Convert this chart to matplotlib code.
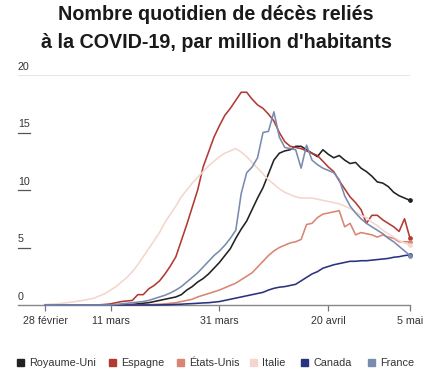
import matplotlib
matplotlib.use("Agg")
import matplotlib.pyplot as plt
import pandas as pd

dates = pd.date_range("2020-02-28", "2020-05-05", freq="D")

royaume_uni = [0] * 15 + [
    0.02, 0.05, 0.1, 0.15, 0.2, 0.3, 0.4, 0.5, 0.6, 0.7,
    0.9, 1.3, 1.6, 2.0, 2.3, 2.7, 3.2, 3.7, 4.3, 4.9,
    5.8, 6.6, 7.3, 8.3, 9.3, 10.2, 11.4, 12.6, 13.2, 13.4,
    13.5, 13.8, 13.8, 13.5, 13.2, 12.9, 13.5, 13.1, 12.8, 13.0,
    12.6, 12.3, 12.4, 11.9, 11.6, 11.2, 10.7, 10.6, 10.3, 9.8,
    9.5, 9.3, 9.1]
espagne = [0] * 10 + [
    0.02, 0.05, 0.1, 0.2, 0.3, 0.35, 0.4, 0.9, 0.9, 1.4,
    1.7, 2.1, 2.7, 3.4, 4.2, 5.6, 7.0, 8.5, 10.0, 12.0,
    13.3, 14.6, 15.6, 16.5, 17.1, 17.8, 18.5, 18.5, 17.9, 17.4,
    17.1, 16.6, 16.0, 15.0, 14.2, 13.8, 13.7, 13.6, 13.4, 13.2,
    13.0, 12.5, 12.0, 11.6, 10.8, 10.1, 9.4, 8.9, 8.3, 7.1,
    7.8, 7.8, 7.4, 7.1, 6.8, 6.4, 7.5, 5.8]
etats_unis = [0] * 18 + [
    0.02, 0.03, 0.05, 0.07, 0.1, 0.15, 0.2, 0.3, 0.4, 0.5,
    0.7, 0.85, 1.0, 1.15, 1.3, 1.5, 1.7, 1.9, 2.2, 2.5,
    2.8, 3.3, 3.8, 4.3, 4.7, 5.0, 5.2, 5.4, 5.5, 5.7,
    7.0, 7.1, 7.6, 7.9, 8.0, 8.1, 8.2, 6.8, 7.1, 6.1,
    6.3, 6.2, 6.1, 5.9, 6.1, 5.9, 5.8, 5.5, 5.5, 5.5]
italie = [
    0.05, 0.07, 0.1, 0.15, 0.2, 0.25, 0.35, 0.4, 0.5, 0.6,
    0.8, 1.0, 1.3, 1.6, 2.0, 2.4, 2.9, 3.5, 4.2, 4.9,
    5.6, 6.3, 7.2, 7.9, 8.6, 9.4, 10.0, 10.6, 11.1, 11.6,
    12.1, 12.5, 12.9, 13.2, 13.4, 13.6, 13.3, 12.9, 12.4, 11.9,
    11.4, 10.9, 10.5, 10.1, 9.8, 9.6, 9.4, 9.3, 9.3, 9.3,
    9.2, 9.1, 9.0, 8.9, 8.8, 8.6, 8.4, 8.1, 7.8, 7.6,
    7.2, 6.9, 6.5, 6.2, 5.9, 5.6, 5.4, 5.2]
canada = [0] * 21 + [
    0.01, 0.02, 0.03, 0.05, 0.07, 0.1, 0.12, 0.15, 0.18, 0.2,
    0.25, 0.3, 0.4, 0.5, 0.6, 0.7, 0.8, 0.9, 1.0, 1.1,
    1.3, 1.45, 1.55, 1.6, 1.7, 1.8, 2.1, 2.4, 2.7, 2.9,
    3.2, 3.35, 3.5, 3.6, 3.7, 3.8, 3.8, 3.85, 3.85, 3.9,
    3.95, 4.0, 4.05, 4.15, 4.2, 4.3, 4.35]
france = [0] * 13 + [
    0.05, 0.1, 0.15, 0.2, 0.25, 0.3, 0.4, 0.55, 0.7, 0.85,
    1.05, 1.3, 1.6, 2.0, 2.4, 2.8, 3.3, 3.8, 4.3, 4.7,
    5.2, 5.8, 6.5, 9.7, 11.5, 12.0, 12.8, 15.0, 15.1, 16.8,
    14.6, 13.7, 13.6, 13.5, 11.9, 13.9, 12.6, 12.2, 11.9, 11.7,
    11.5, 10.9, 9.5, 8.6, 8.0, 7.5, 7.1, 6.8, 6.5, 6.2,
    5.8, 5.5, 5.1, 4.7, 4.3]

names = ["Royaume-Uni", "Espagne", "États-Unis", "Italie", "Canada", "France"]
series = [royaume_uni, espagne, etats_unis, italie, canada, france]
colors = ["#222222", "#b23a33", "#d98573", "#f4d6cd", "#28337f", "#7a8bb0"]
draw_order = [3, 2, 4, 5, 0, 1]

tick_dates = pd.to_datetime(["2020-02-28", "2020-03-11", "2020-03-31", "2020-04-20", "2020-05-05"])
tick_labels = ["28 février", "11 mars", "31 mars", "20 avril", "5 mai"]
y_ticks = [0, 5, 10, 15, 20]

plt.rcParams["font.family"] = ["Liberation Sans", "DejaVu Sans"]
fig = plt.figure(figsize=(4.32, 3.75), dpi=100)
ax = fig.add_axes([18 / 432, 1 - 305 / 375, 392 / 432, 230 / 375])

for i in draw_order:
    ax.plot(dates, series[i], color=colors[i], lw=1.15, clip_on=False, zorder=3 + i)
    ax.plot(dates[-1], series[i][-1], "o", color=colors[i], ms=2.4, clip_on=False, zorder=3 + i)

ax.set_xlim(pd.Timestamp("2020-02-23"), pd.Timestamp("2020-05-05"))
ax.set_ylim(0, 20)
for s in ["top", "right", "left"]:
    ax.spines[s].set_visible(False)
ax.spines["bottom"].set_color("#888888")
ax.spines["bottom"].set_linewidth(1.0)
ax.axhline(20, color="#e6e6e6", lw=0.8, zorder=1)

ax.set_xticks(tick_dates)
ax.set_xticklabels(tick_labels, fontsize=7.7, color="#333333")
ax.tick_params(axis="x", length=4, width=0.9, color="#777777", pad=4)
ax.set_yticks([])

for v in y_ticks:
    ax.text(0, v + 0.3, str(v), transform=ax.get_yaxis_transform(), fontsize=7.7,
            color="#333333", ha="left", va="bottom")
    if v in (5, 10, 15):
        ax.plot([0, 12 / 392], [v, v], transform=ax.get_yaxis_transform(), color="#555555",
                lw=0.9, clip_on=False)

fig.text(0.5, 1 - 14 / 375, "Nombre quotidien de décès reliés", ha="center", va="center",
         fontsize=14.2, fontweight="bold", color="#1a1a1a")
fig.text(0.5, 1 - 42 / 375, "à la COVID-19, par million d'habitants", ha="center", va="center",
         fontsize=14.2, fontweight="bold", color="#1a1a1a")

legend_x = [20, 112, 180, 253, 304, 371]
for x, name, c in zip(legend_x, names, colors):
    fig.patches.append(plt.Rectangle(((x - 3) / 432, 1 - 366 / 375), 7 / 432, 7 / 375,
                                     transform=fig.transFigure, color=c, figure=fig))
    fig.text((x + 9) / 432, 1 - 363 / 375, name, ha="left", va="center", fontsize=7.8, color="#333333")

fig.savefig("out.png", dpi=100)
